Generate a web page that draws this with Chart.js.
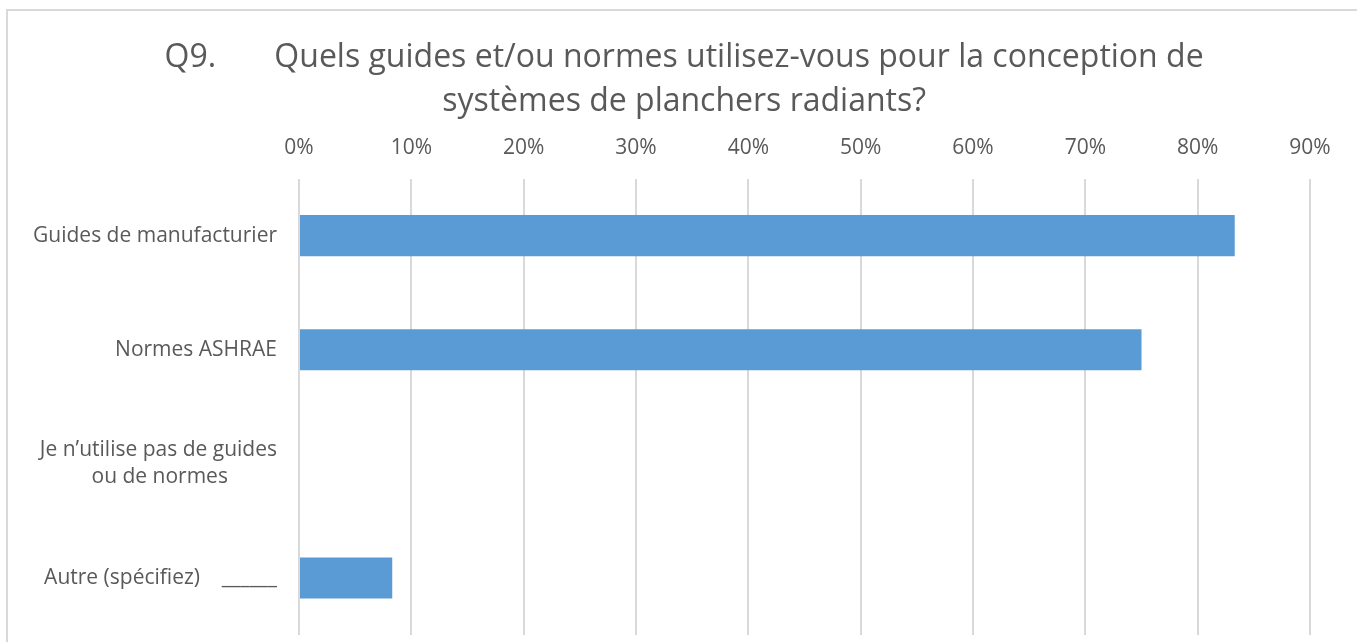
<!DOCTYPE html>
<html lang="fr">
<head>
    <meta charset="UTF-8">
    <title>Q9 - Guides et normes</title>
    <script src="https://cdn.jsdelivr.net/npm/chart.js"></script>
    <style>
        html, body {
            margin: 0;
            padding: 0;
            overflow: hidden;
            background: #fff;
        }

        #q9-chart {
            position: absolute;
            left: 0;
            top: 0;
        }

        .frame {
            position: absolute;
            left: 6px;
            top: 9px;
            width: 1400px;
            height: 700px;
            border: 2px solid #d9d9d9;
            pointer-events: none;
        }
    </style>
</head>
<body>

    <canvas id="q9-chart" width="1357" height="642"></canvas>
    <div class="frame"></div>

    <script>
        // Données
        const categories = [
            'Guides de manufacturier',
            'Normes ASHRAE',
            ['Je n\u2019utilise pas de guides', 'ou de normes\u00a0\u00a0\u00a0\u00a0\u00a0\u00a0\u00a0\u00a0\u00a0'],
            'Autre (spécifiez)\u00a0\u00a0\u00a0\u00a0______'
        ];
        const responses = [83.3, 75, 0, 8.3];
        const tickValues = [0, 10, 20, 30, 40, 50, 60, 70, 80, 90];
        // espaces en tête : le titre est décalé vers la droite dans l'original
        const titleLines = [
            '\u00a0\u00a0\u00a0\u00a0\u00a0\u00a0\u00a0Q9.\u00a0\u00a0\u00a0\u00a0\u00a0\u00a0\u00a0Quels guides et/ou normes utilisez-vous pour la conception de',
            '\u00a0\u00a0\u00a0\u00a0\u00a0\u00a0\u00a0systèmes de planchers radiants?'
        ];

        const textColor = '#595959';
        const fontFamily = '"Open Sans", sans-serif';

        const ctx = document.getElementById('q9-chart').getContext('2d');
        const q9Chart = new Chart(ctx, {
            type: 'bar',
            data: {
                labels: categories,
                datasets: [{
                    label: 'Réponses',
                    data: responses,
                    backgroundColor: '#5b9bd5',
                    borderWidth: 0,
                    barPercentage: 0.36,
                    categoryPercentage: 1
                }]
            },
            options: {
                indexAxis: 'y',
                responsive: false,
                animation: false,
                layout: {
                    padding: { top: 35, left: 0, right: 47, bottom: 7 }
                },
                scales: {
                    x: {
                        position: 'top',
                        min: 0,
                        max: 90,
                        afterBuildTicks: (scale) => {
                            scale.ticks = tickValues.map(v => ({ value: v }));
                        },
                        afterFit: (scale) => {
                            scale.height = 54;
                            scale.paddingLeft = 0;
                            scale.paddingRight = 0;
                        },
                        border: { display: false },
                        grid: {
                            color: '#d9d9d9',
                            lineWidth: 2,
                            drawTicks: false
                        },
                        ticks: {
                            padding: 18,
                            color: textColor,
                            font: { family: fontFamily, size: 21 },
                            callback: (v) => v + '%'
                        }
                    },
                    y: {
                        afterFit: (scale) => {
                            scale.width = 299;
                            scale.paddingTop = 0;
                            scale.paddingBottom = 0;
                        },
                        border: { display: false },
                        grid: { display: false, drawTicks: false },
                        ticks: {
                            padding: 22,
                            color: textColor,
                            font: { family: fontFamily, size: 21, lineHeight: 1.3 }
                        }
                    }
                },
                plugins: {
                    legend: { display: false },
                    tooltip: { enabled: false },
                    title: {
                        display: true,
                        text: titleLines,
                        color: textColor,
                        font: { family: fontFamily, size: 32, weight: 'normal', lineHeight: 1.4 },
                        padding: { top: 0, bottom: 0 }
                    }
                }
            }
        });
    </script>

</body>
</html>
